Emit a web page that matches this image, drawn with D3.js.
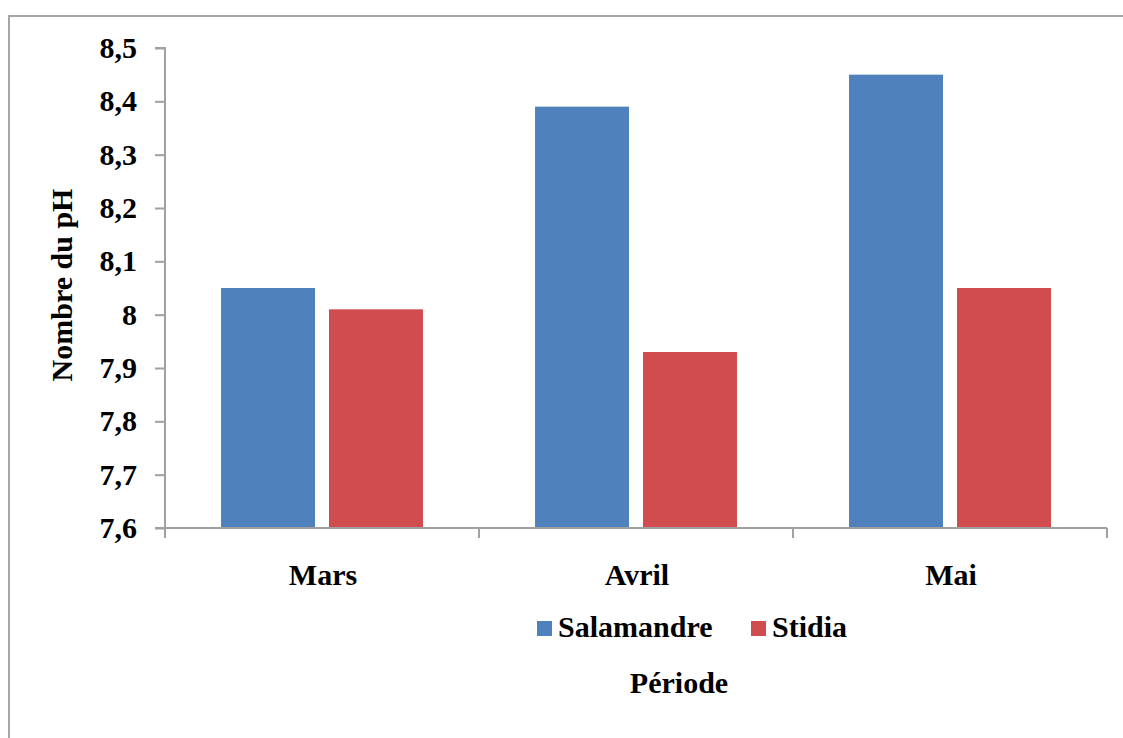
<!DOCTYPE html>
<html>
<head>
<meta charset="utf-8">
<script src="https://cdn.jsdelivr.net/npm/d3@7"></script>
<style>
  html, body { margin: 0; padding: 0; background: #fff; }
  svg { display: block; }
  svg text { font-family: "Liberation Serif", "Tinos", "Times New Roman", "DejaVu Serif", serif !important; font-weight: bold; fill: #000; }
</style>
</head>
<body>
<svg id="chart" width="1123" height="738"></svg>
<script>
// pH per month at the two sampling sites
const months = ["Mars", "Avril", "Mai"];
const series = ["Salamandre", "Stidia"];
const salamandre = [8.05, 8.39, 8.45];
const stidia = [8.01, 7.93, 8.05];
const yTicks = [7.6, 7.7, 7.8, 7.9, 8.0, 8.1, 8.2, 8.3, 8.4, 8.5];
const colors = ["#4F81BD", "#D04C4E"];

const values = { Salamandre: salamandre, Stidia: stidia };
const rows = months.map((m, i) => ({ month: m, vals: series.map(s => ({ key: s, value: values[s][i] })) }));

const svg = d3.select("#chart");
const axisColor = "#a0a0a0";
const serifFont = "'Liberation Serif', 'Tinos', 'Times New Roman', 'DejaVu Serif', serif";

// chart frame (its right and bottom edges fall outside the view)
svg.append("rect")
  .attr("x", 9).attr("y", 16)
  .attr("width", 1200).attr("height", 800)
  .attr("fill", "none").attr("stroke", "#a6a6a6").attr("stroke-width", 2);

const plotLeft = 165, plotRight = 1107, plotTop = 48, plotBottom = 528;

const x0 = d3.scaleBand().domain(months).range([plotLeft, plotRight]).padding(0);
const x1 = d3.scaleBand().domain(series).range([0, x0.bandwidth()])
  .paddingInner(0.1296).paddingOuter(0.519);
const y = d3.scaleLinear().domain([7.6, 8.5]).range([plotBottom, plotTop]);

// bars
const groups = svg.append("g").selectAll("g").data(rows).join("g")
  .attr("transform", d => `translate(${x0(d.month)},0)`);
groups.selectAll("rect").data(d => d.vals).join("rect")
  .attr("x", d => x1(d.key))
  .attr("width", x1.bandwidth())
  .attr("y", d => y(d.value))
  .attr("height", d => y(7.6) - y(d.value))
  .attr("fill", (d, i) => colors[i]);

// y axis
const yAxis = d3.axisLeft(y).tickValues(yTicks).tickSize(10).tickPadding(18)
  .tickFormat(v => (Math.round(v * 10) / 10).toString().replace(".", ","));
const gy = svg.append("g").attr("transform", `translate(${plotLeft},0)`).call(yAxis)
  .attr("font-family", serifFont).attr("font-size", 30);
gy.select(".domain").attr("stroke", axisColor).attr("stroke-width", 2).attr("d", `M-10,${plotTop}H0V${plotBottom}`);
gy.selectAll(".tick line").attr("stroke", axisColor).attr("stroke-width", 2);
gy.selectAll(".tick text").style("font-size", "30px").attr("fill", "#000");

// x axis: ticks at category boundaries
const gx = svg.append("g").attr("transform", `translate(0,${plotBottom})`);
gx.append("line").attr("x1", plotLeft - 10).attr("x2", plotRight).attr("y1", 0).attr("y2", 0)
  .attr("stroke", axisColor).attr("stroke-width", 2);
const bounds = months.map(m => x0(m)).concat([x0(months[months.length - 1]) + x0.bandwidth()]);
gx.selectAll("line.tk").data(bounds).join("line").attr("class", "tk")
  .attr("x1", d => d).attr("x2", d => d).attr("y1", 0).attr("y2", 10)
  .attr("stroke", axisColor).attr("stroke-width", 2);
gx.selectAll("text").data(months).join("text")
  .attr("x", d => x0(d) + x0.bandwidth() / 2 + 1)
  .attr("y", 57)
  .attr("text-anchor", "middle")
  .style("font-size", "30px")
  .text(d => d);

// y axis title
svg.append("text")
  .attr("transform", `translate(72,${(182 + 388) / 2}) rotate(-90)`)
  .attr("text-anchor", "middle")
  .style("font-size", "30px")
  .text("Nombre du pH");

// legend
const legend = svg.append("g");
const legendItems = [{ label: series[0], x: 537 }, { label: series[1], x: 751 }];
legendItems.forEach((it, i) => {
  legend.append("rect").attr("x", it.x).attr("y", 621).attr("width", 15).attr("height", 15).attr("fill", colors[i]);
  legend.append("text").attr("x", it.x + 21).attr("y", 637).style("font-size", "30px").text(it.label);
});

// x axis title
svg.append("text")
  .attr("x", 679).attr("y", 693)
  .attr("text-anchor", "middle")
  .style("font-size", "30px")
  .text("Période");
</script>
</body>
</html>
